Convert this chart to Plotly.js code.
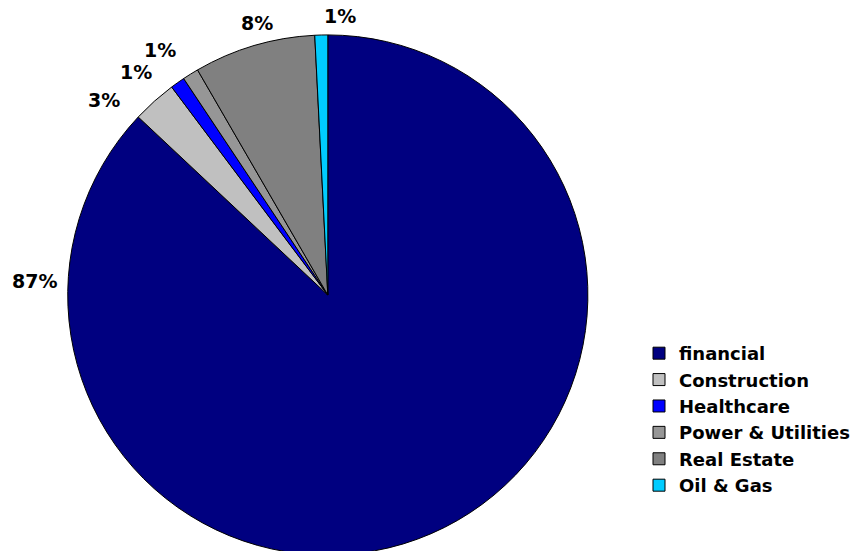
<!DOCTYPE html>
<html><head><meta charset="utf-8">
<script src="https://cdn.plot.ly/plotly-3.0.1.min.js"></script>
<style>html,body{margin:0;padding:0;overflow:hidden;background:#fff}</style>
</head><body>
<div id="chart" style="width:855px;height:561px"></div>
<script>
const categories = ['financial','Construction','Healthcare','Power & Utilities','Real Estate','Oil & Gas'];
const values = [87.0, 2.75, 0.9, 1.0, 7.55, 0.8];
const colors = ['#000080','#C0C0C0','#0000FF','#969696','#808080','#00CCFF'];

const total = values.reduce((a, b) => a + b, 0);
const pctLabels = values.map(v => Math.round(v / total * 100) + '%');

// label anchor points (paper fractions), as placed in the original chart
const labelPos = [[0.0409, 0.4991], [0.1216, 0.8217], [0.1591, 0.8717], [0.1883, 0.9109], [0.3018, 0.959], [0.3988, 0.9715]];

const annotations = pctLabels.map((t, i) => ({
  text: t, xref: 'paper', yref: 'paper', x: labelPos[i][0], y: labelPos[i][1],
  xanchor: 'center', yanchor: 'middle', showarrow: false,
  font: {family: 'DejaVu Sans', size: 19, color: '#000', weight: 'bold'}
}));

Plotly.newPlot('chart', [{
  type: 'pie',
  labels: categories,
  values: values,
  sort: false,
  direction: 'clockwise',
  rotation: 0,
  marker: {colors: colors, line: {color: '#000000', width: 1}},
  textinfo: 'none',
  hoverinfo: 'label+percent',
  domain: {x: [0.0795, 0.690], y: [0.0089, 0.9394]}
}], {
  width: 855, height: 561,
  margin: {l: 0, r: 0, t: 0, b: 0},
  paper_bgcolor: '#fff',
  showlegend: true,
  annotations: annotations,
  legend: {
    x: 0.7503, y: 0.4029, xanchor: 'left', yanchor: 'top',
    font: {family: 'DejaVu Sans', size: 18, color: '#000', weight: 'bold'},
    itemwidth: 30
  }
}, {displayModeBar: false, staticPlot: true});
</script>
</body></html>
